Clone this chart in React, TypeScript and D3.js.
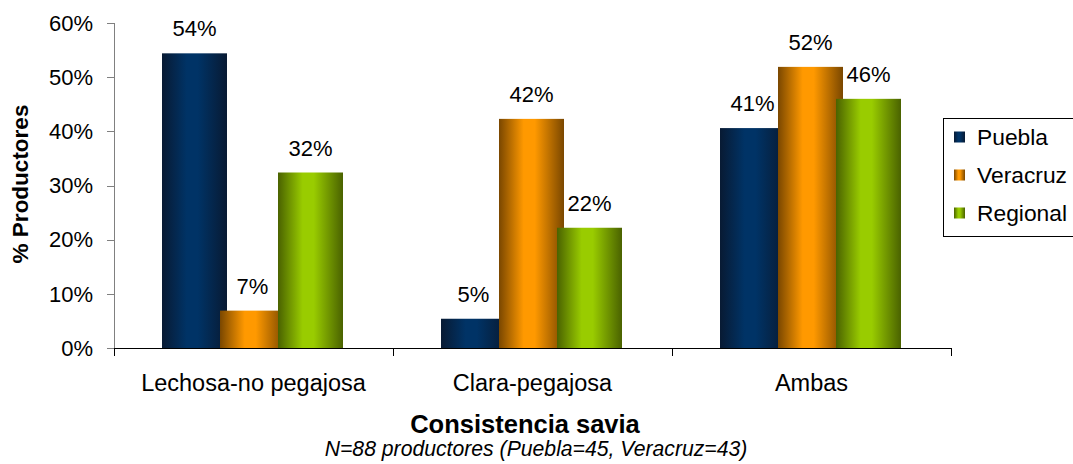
import React from 'react';
import * as d3 from 'd3';

const categories = ['Lechosa-no pegajosa', 'Clara-pegajosa', 'Ambas'];
const seriesNames = ['Puebla', 'Veracruz', 'Regional'];
const puebla = [54.4, 5.4, 40.6];
const veracruz = [6.9, 42.3, 51.9];
const regional = [32.4, 22.2, 46.0];
const yTicks = [0, 10, 20, 30, 40, 50, 60];
const xTitle = 'Consistencia savia';
const subTitle = 'N=88 productores (Puebla=45, Veracruz=43)';
const yTitle = '% Productores';

const seriesValues = [puebla, veracruz, regional];
const gradients = [
  { id: 'gPuebla', edge: '#081a33', mid: '#003366' },
  { id: 'gVeracruz', edge: '#7a4700', mid: '#ff9900' },
  { id: 'gRegional', edge: '#4a6200', mid: '#99cc00' },
];

const W = 1073;
const H = 464;
const FONT = 'Liberation Sans, Arial, sans-serif';

export default function App() {
  const x = d3.scaleBand<string>().domain(categories).range([114, 951]).padding(0);
  const inner = d3.scaleBand<string>().domain(seriesNames).range([48, 48 + 3 * 58]).padding(0);
  const barW = 65;
  const y = d3.scaleLinear().domain([0, 60]).range([348, 23]);

  const txt = (
    key: string,
    tx: number,
    ty: number,
    s: string,
    opts: { size?: number; anchor?: string; weight?: string; style?: string; rotate?: number } = {}
  ) => (
    <text
      key={key}
      transform={`translate(${tx},${ty})${opts.rotate ? ` rotate(${opts.rotate})` : ''}`}
      fontFamily={FONT}
      fontSize={opts.size ?? 22}
      fontWeight={opts.weight ?? 'normal'}
      fontStyle={opts.style ?? 'normal'}
      textAnchor={opts.anchor ?? 'middle'}
      fill="#000"
    >
      {s}
    </text>
  );

  return (
    <svg width={W} height={H} style={{ position: 'absolute', left: 0, top: 0, background: '#fff' }}>
      <defs>
        {gradients.map((g) => (
          <linearGradient key={g.id} id={g.id} x1="0" x2="1" y1="0" y2="0">
            <stop offset="0" stopColor={g.edge} />
            <stop offset="0.38" stopColor={g.mid} />
            <stop offset="0.55" stopColor={g.mid} />
            <stop offset="1" stopColor={g.edge} />
          </linearGradient>
        ))}
      </defs>
      <rect x={0} y={0} width={W} height={H} fill="#fff" />

      {/* y axis */}
      <line x1={114.5} x2={114.5} y1={y(60)} y2={y(0)} stroke="#808080" strokeWidth={1} />
      {yTicks.map((t) => (
        <g key={'yt' + t}>
          <line x1={107} x2={114.5} y1={Math.round(y(t)) + 0.5} y2={Math.round(y(t)) + 0.5} stroke="#808080" />
          {txt('yl' + t, 93, y(t) + 7.8, `${t}%`, { anchor: 'end', size: 22 })}
        </g>
      ))}

      {/* bars */}
      {seriesNames.map((s, si) =>
        categories.map((c, ci) => {
          const v = seriesValues[si][ci];
          const bx = (x(c) ?? 0) + (inner(s) ?? 0);
          const top = y(v);
          return <rect key={s + c} x={bx} y={top} width={barW} height={y(0) - top} fill={`url(#${gradients[si].id})`} />;
        })
      )}
      {seriesNames.map((s, si) =>
        categories.map((c, ci) => {
          const v = seriesValues[si][ci];
          const cx = (x(c) ?? 0) + (inner(s) ?? 0) + barW / 2;
          return txt('dl' + s + c, cx, y(v) - 17, `${Math.round(v)}%`, { size: 22 });
        })
      )}

      {/* x axis */}
      <line x1={114} x2={951} y1={348.5} y2={348.5} stroke="#000" strokeWidth={1} />
      {[0, 1, 2, 3].map((i) => {
        const xx = Math.round(114 + i * x.step()) + 0.5;
        return <line key={'xt' + i} x1={xx} x2={xx} y1={348} y2={356} stroke="#000" />;
      })}
      {categories.map((c) => txt('xl' + c, (x(c) ?? 0) + x.bandwidth() / 2, 391, c, { size: 23.5 }))}

      {/* titles */}
      {txt('xt', 525, 433, xTitle, { size: 25.5, weight: 'bold' })}
      {txt('st', 536, 456, subTitle, { size: 21.2, style: 'italic' })}
      {txt('yt', 28, 184, yTitle, { size: 22.5, weight: 'bold', rotate: -90 })}

      {/* legend */}
      <rect x={943.5} y={118.5} width={160} height={118} fill="#fff" stroke="#000" strokeWidth={1} />
      {seriesNames.map((s, i) => {
        const cy = 137 + i * 38;
        return (
          <g key={'lg' + s}>
            <rect x={954} y={cy - 5.5} width={11} height={11} fill={`url(#${gradients[i].id})`} />
            {txt('lt' + s, 977, cy + 8, s, { anchor: 'start', size: 22.8 })}
          </g>
        );
      })}
    </svg>
  );
}
